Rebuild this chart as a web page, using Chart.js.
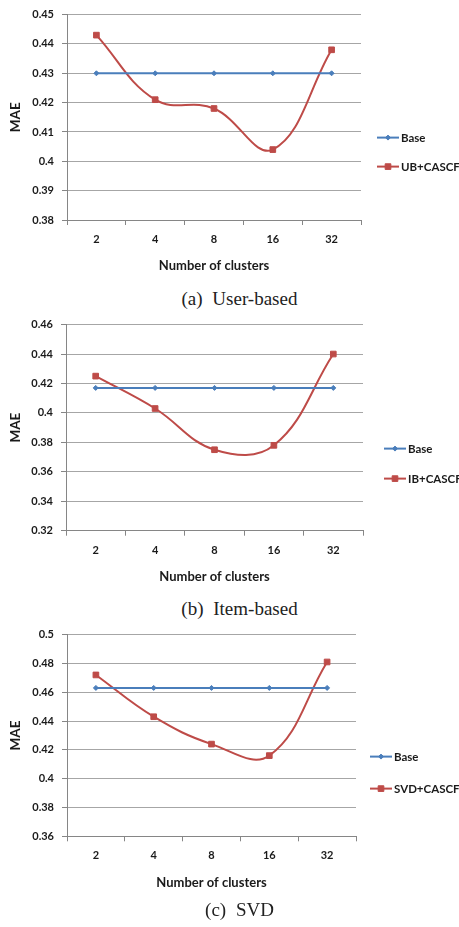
<!DOCTYPE html>
<html>
<head>
<meta charset="utf-8">
<script src="https://cdn.jsdelivr.net/npm/chart.js@4/dist/chart.umd.min.js"></script>
<style>
  body { margin: 0; background: #fff; width: 459px; height: 927px; position: relative; overflow: hidden; }
  canvas { position: absolute; left: 0; }
  .caption {
    position: absolute; left: 0; width: 479px; text-align: center;
    font-family: "Liberation Serif", "DejaVu Serif", serif; font-size: 19px;
    line-height: 20px; color: #222; word-spacing: 5px;
  }
</style>
</head>
<body>
<canvas id="chartA" width="459" height="280" style="top:0px"></canvas>
<div class="caption" style="top:289px">(a) User-based</div>
<canvas id="chartB" width="459" height="285" style="top:310px"></canvas>
<div class="caption" style="top:599px">(b) Item-based</div>
<canvas id="chartC" width="459" height="280" style="top:620px"></canvas>
<div class="caption" style="top:900px">(c) SVD</div>

<script>
const clusters = ['2', '4', '8', '16', '32']

// (a) user-based
const baseA = [0.43, 0.43, 0.43, 0.43, 0.43]
const ubCascf = [0.443, 0.421, 0.418, 0.404, 0.438]
const yTicksA = [0.38, 0.39, 0.40, 0.41, 0.42, 0.43, 0.44, 0.45]

// (b) item-based
const baseB = [0.417, 0.417, 0.417, 0.417, 0.417]
const ibCascf = [0.425, 0.403, 0.375, 0.378, 0.44]
const yTicksB = [0.32, 0.34, 0.36, 0.38, 0.40, 0.42, 0.44, 0.46]

// (c) SVD
const baseC = [0.463, 0.463, 0.463, 0.463, 0.463]
const svdCascf = [0.472, 0.443, 0.424, 0.416, 0.481]
const yTicksC = [0.36, 0.38, 0.40, 0.42, 0.44, 0.46, 0.48, 0.50]

const BLUE = '#4a7ebb'
const RED = '#be4b48'
const FONT = 'Lato, "Open Sans", sans-serif'

// legend drawn to the right of the plot, like the Excel one
const sideLegend = {
  id: 'sideLegend',
  afterDraw(chart, args, opts) {
    const ctx = chart.ctx
    const area = chart.chartArea
    chart.data.datasets.forEach((ds, i) => {
      const x = area.right + opts.dx
      const y = area.top + opts.dy[i]
      ctx.save()
      ctx.strokeStyle = ds.borderColor
      ctx.fillStyle = ds.backgroundColor
      ctx.lineWidth = 2
      ctx.beginPath()
      ctx.moveTo(x, y)
      ctx.lineTo(x + 22, y)
      ctx.stroke()
      ctx.lineWidth = 1
      Chart.helpers.drawPoint(ctx, {
        pointStyle: ds.pointStyle,
        radius: ds.pointRadius,
        rotation: 0,
        borderWidth: 1
      }, x + 11, y)
      ctx.fillStyle = '#1a1a1a'
      ctx.font = 'bold 11.5px ' + FONT
      ctx.textBaseline = 'middle'
      ctx.fillText(ds.label, x + 24, y + 0.5)
      ctx.restore()
    })
  }
}

function makeChart(id, base, series, seriesName, yTicks, geo) {
  const ctx = document.getElementById(id).getContext('2d')
  return new Chart(ctx, {
    type: 'line',
    data: {
      labels: clusters,
      datasets: [
        {
          label: 'Base',
          data: base,
          borderColor: BLUE,
          backgroundColor: BLUE,
          borderWidth: 2,
          pointStyle: 'rectRot',
          pointRadius: 2.5,
          pointBorderWidth: 1,
          tension: 0,
        },
        {
          label: seriesName,
          data: series,
          borderColor: RED,
          backgroundColor: RED,
          borderWidth: 2,
          pointStyle: 'rect',
          pointRadius: 4,
          pointBorderWidth: 1,
          tension: 0.4,
        },
      ],
    },
    options: {
      responsive: false,
      animation: false,
      layout: {
        padding: { top: geo.top, right: geo.right, bottom: geo.bottom, left: 0 },
      },
      plugins: {
        legend: { display: false },
        tooltip: { enabled: false },
        sideLegend: { dx: geo.legendDx, dy: geo.legendDy },
      },
      scales: {
        x: {
          type: 'category',
          offset: true,
          afterFit: (scale) => { scale.height = 54 },
          grid: {
            offset: true,
            drawOnChartArea: false,
            drawTicks: true,
            tickLength: 5,
            color: '#868686',
          },
          border: { color: '#868686', width: 1 },
          ticks: {
            padding: 8,
            color: '#1a1a1a',
            font: { family: FONT, size: 11, weight: 'bold' },
          },
          title: {
            display: true,
            text: 'Number of clusters',
            color: '#1a1a1a',
            padding: { top: 0, bottom: 0 },
            font: { family: FONT, size: 13, weight: 'bold' },
          },
        },
        y: {
          min: yTicks[0],
          max: yTicks[yTicks.length - 1],
          afterFit: (scale) => { scale.width = geo.left },
          afterBuildTicks: (scale) => { scale.ticks = yTicks.map((v) => ({ value: v })) },
          grid: {
            color: '#a6a6a6',
            lineWidth: 1,
            drawTicks: true,
            tickLength: 5,
            tickColor: '#868686',
          },
          border: { color: '#868686', width: 1 },
          ticks: {
            padding: 8,
            color: '#1a1a1a',
            font: { family: FONT, size: 11, weight: 'bold' },
            callback: (v) => String(Number(v.toFixed(2))),
          },
          title: {
            display: true,
            text: 'MAE',
            color: '#1a1a1a',
            padding: { top: 8, bottom: 0 },
            font: { family: FONT, size: 13.5, weight: 'bold' },
          },
        },
      },
    },
    plugins: [sideLegend],
  })
}

makeChart('chartA', baseA, ubCascf, 'UB+CASCF', yTicksA,
  { top: 11, right: 98, bottom: 6, left: 67, legendDx: 16, legendDy: [123, 152] })
makeChart('chartB', baseB, ibCascf, 'IB+CASCF', yTicksB,
  { top: 10.7, right: 96, bottom: 10.3, left: 66, legendDx: 21, legendDy: [124, 154] })
makeChart('chartC', baseC, svdCascf, 'SVD+CASCF', yTicksC,
  { top: 11.3, right: 103, bottom: 9.7, left: 67, legendDx: 14, legendDy: [122, 154] })
</script>
</body>
</html>
